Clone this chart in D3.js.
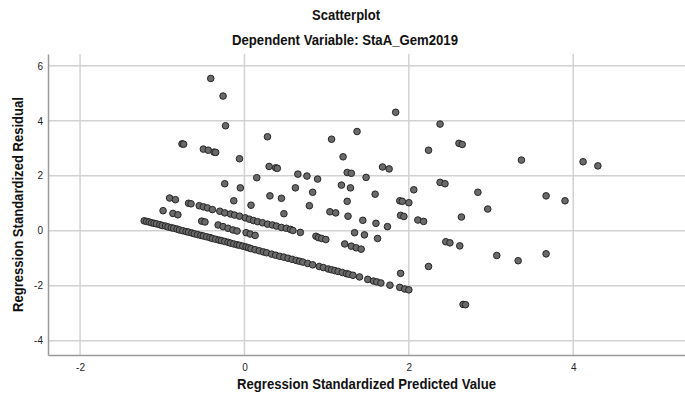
<!DOCTYPE html>
<html>
<head>
<meta charset="utf-8">
<script src="https://cdn.jsdelivr.net/npm/d3@7"></script>
<style>
  html, body { margin: 0; padding: 0; background: #fff; }
  svg { display: block; font-family: Arial, "Liberation Sans", sans-serif; }
</style>
</head>
<body>
<svg id="chart" width="685" height="401"></svg>
<script>
// Chart text
const chartTitle = "Scatterplot";
const chartSubtitle = "Dependent Variable: StaA_Gem2019";
const xAxisTitle = "Regression Standardized Predicted Value";
const yAxisTitle = "Regression Standardized Residual";

// Axis ticks
const xTicks = [-2, 0, 2, 4];
const yTicks = [-4, -2, 0, 2, 4, 6];

// Residuals along the lowest diagonal band [predicted, residual]
const lowerBand = [
  [-1.22, 0.36], [-1.19, 0.34], [-1.16, 0.32], [-1.13, 0.29], [-1.10, 0.27], [-1.07, 0.25],
  [-1.03, 0.22], [-1.00, 0.19], [-0.96, 0.17], [-0.93, 0.14], [-0.89, 0.11], [-0.86, 0.09],
  [-0.82, 0.06], [-0.79, 0.03], [-0.75, 0.00], [-0.71, -0.03], [-0.68, -0.05], [-0.64, -0.08],
  [-0.61, -0.11], [-0.57, -0.14], [-0.53, -0.17], [-0.50, -0.19], [-0.46, -0.22], [-0.42, -0.25],
  [-0.39, -0.28], [-0.35, -0.31], [-0.31, -0.34], [-0.28, -0.36], [-0.24, -0.39], [-0.20, -0.42],
  [-0.17, -0.45], [-0.13, -0.48], [-0.09, -0.51], [-0.06, -0.53], [-0.02, -0.56], [0.02, -0.59],
  [0.05, -0.62], [0.08, -0.65], [0.13, -0.69], [0.18, -0.73], [0.23, -0.77], [0.27, -0.80],
  [0.33, -0.85], [0.38, -0.89], [0.43, -0.93], [0.48, -0.96], [0.53, -1.00], [0.58, -1.04],
  [0.63, -1.08], [0.67, -1.11], [0.71, -1.14], [0.77, -1.19], [0.83, -1.24], [0.91, -1.30],
  [0.96, -1.34], [1.02, -1.39], [1.06, -1.42], [1.10, -1.45], [1.14, -1.48], [1.19, -1.52],
  [1.24, -1.56], [1.27, -1.58], [1.32, -1.62], [1.40, -1.68], [1.50, -1.77], [1.57, -1.83],
  [1.61, -1.86], [1.66, -1.90], [1.77, -1.98], [1.89, -2.06], [1.95, -2.12], [2.00, -2.15]
];

// Residuals along the short band just above it
const middleBand = [
  [-0.99, 0.73], [-0.87, 0.63], [-0.81, 0.58], [-0.52, 0.35], [-0.48, 0.32], [-0.32, 0.21],
  [-0.26, 0.15], [-0.20, 0.09], [-0.14, 0.03], [-0.09, -0.01], [0.02, -0.07], [0.07, -0.12],
  [0.13, -0.17]
];

// Residuals along the upper diagonal band
const upperBand = [
  [-0.91, 1.19], [-0.84, 1.13], [-0.68, 1.00], [-0.65, 0.98], [-0.55, 0.91], [-0.50, 0.87],
  [-0.45, 0.83], [-0.39, 0.77], [-0.30, 0.71], [-0.24, 0.65], [-0.17, 0.61], [-0.12, 0.57],
  [-0.06, 0.53], [0.01, 0.47], [0.06, 0.42], [0.11, 0.37], [0.16, 0.33], [0.22, 0.29],
  [0.28, 0.24], [0.34, 0.21], [0.39, 0.17], [0.45, 0.12], [0.51, 0.09], [0.56, 0.05],
  [0.59, 0.01], [0.68, -0.06], [0.87, -0.20], [0.90, -0.25], [0.94, -0.28], [0.99, -0.32],
  [1.22, -0.48], [1.30, -0.56], [1.36, -0.62], [1.42, -0.67]
];

// Remaining cases
const scattered = [
  [-0.41, 5.54], [-0.26, 4.90], [-0.23, 3.82], [-0.76, 3.16], [-0.74, 3.15], [-0.50, 2.97],
  [-0.44, 2.93], [-0.37, 2.86], [-0.35, 2.85], [-0.06, 2.62], [0.28, 3.42], [0.30, 2.34],
  [0.38, 2.29], [0.40, 2.27], [-0.24, 1.71], [-0.05, 1.56], [0.15, 1.93], [-0.13, 1.09],
  [0.08, 0.93], [0.31, 1.27], [1.84, 4.31], [2.38, 3.88], [1.06, 3.33], [1.37, 3.61],
  [1.20, 2.69], [2.24, 2.93], [2.61, 3.18], [2.65, 3.14], [0.65, 2.06], [0.76, 1.99],
  [0.89, 1.88], [1.25, 2.12], [1.30, 2.09], [1.48, 1.94], [1.68, 2.32], [1.76, 2.25],
  [0.62, 1.56], [0.83, 1.40], [1.18, 1.66], [1.29, 1.56], [1.59, 1.33], [2.38, 1.76],
  [2.44, 1.71], [2.06, 1.49], [2.84, 1.40], [0.45, 1.18], [0.79, 0.91], [1.25, 1.07],
  [1.89, 1.09], [1.92, 1.07], [2.00, 1.02], [2.96, 0.79], [3.37, 2.57], [4.12, 2.51],
  [4.30, 2.36], [3.67, 1.27], [3.90, 1.09], [3.07, -0.90], [3.33, -1.09], [3.67, -0.84],
  [0.48, 0.62], [1.04, 0.69], [1.11, 0.65], [1.26, 0.53], [1.44, 0.38], [1.60, 0.27],
  [1.74, 0.15], [1.90, 0.56], [1.94, 0.52], [2.11, 0.39], [2.18, 0.34], [2.64, 0.50],
  [1.34, -0.07], [1.46, -0.15], [1.62, -0.28], [2.45, -0.40], [2.50, -0.44], [2.62, -0.55],
  [2.24, -1.30], [1.90, -1.55], [2.66, -2.68], [2.69, -2.69]
];

const points = [...lowerBand, ...middleBand, ...upperBand, ...scattered];

// Layout
const plot = { left: 48, right: 685, top: 54, bottom: 355 };

const svg = d3.select("#chart");

const x = d3.scaleLinear().domain([-2.39, 5.36]).range([plot.left, plot.right]);
const y = d3.scaleLinear().domain([-4.52, 6.43]).range([plot.bottom, plot.top]);

// Grid lines
const grid = svg.append("g").attr("class", "grid");
grid.selectAll("line.v").data(xTicks).join("line")
  .attr("class", "v")
  .attr("x1", d => x(d)).attr("x2", d => x(d))
  .attr("y1", plot.top).attr("y2", plot.bottom)
  .attr("stroke", "#d2d2d2").attr("stroke-width", 1.5);
grid.selectAll("line.h").data(yTicks).join("line")
  .attr("class", "h")
  .attr("x1", plot.left).attr("x2", plot.right)
  .attr("y1", d => y(d)).attr("y2", d => y(d))
  .attr("stroke", "#d2d2d2").attr("stroke-width", 1.5);

// Axes built with d3 axis generators, then styled
const xAxis = svg.append("g")
  .attr("transform", `translate(0,${plot.bottom})`)
  .call(d3.axisBottom(x).tickValues(xTicks).tickSize(0).tickPadding(9).tickFormat(d3.format("d")));
const yAxis = svg.append("g")
  .attr("transform", `translate(${plot.left},0)`)
  .call(d3.axisLeft(y).tickValues(yTicks).tickSize(0).tickPadding(5).tickFormat(d3.format("d")));

[xAxis, yAxis].forEach(a => {
  a.select(".domain").attr("stroke", "#9a9a9a").attr("stroke-width", 1.5);
  a.selectAll("text")
    .attr("font-family", "Arial, 'Liberation Sans', sans-serif")
    .attr("font-size", 10)
    .attr("fill", "#222");
});
// Hyphen-style minus signs as in the tick labels
xAxis.selectAll("text").text(d => String(d));
yAxis.selectAll("text").text(d => String(d));

// Points
svg.append("g").attr("class", "points")
  .selectAll("circle").data(points).join("circle")
  .attr("cx", d => x(d[0]))
  .attr("cy", d => y(d[1]))
  .attr("r", 3.3)
  .attr("fill", "#6a6a6a")
  .attr("stroke", "#262626")
  .attr("stroke-width", 1);

// Titles
function boldText(txt, px, py, len, size, rotate) {
  const t = svg.append("text")
    .attr("x", px).attr("y", py)
    .attr("text-anchor", "middle")
    .attr("font-family", "Arial, 'Liberation Sans', sans-serif")
    .attr("font-weight", "bold")
    .attr("font-size", size)
    .attr("fill", "#111")
    .attr("textLength", len)
    .attr("lengthAdjust", "spacingAndGlyphs")
    .text(txt);
  if (rotate) t.attr("transform", `rotate(-90,${px},${py})`);
  return t;
}

boldText(chartTitle, 346, 20, 68, 14);
boldText(chartSubtitle, 345, 45, 226, 14);
boldText(xAxisTitle, (plot.left + plot.right) / 2, 389, 259, 14.5);
boldText(yAxisTitle, 23, (plot.top + plot.bottom) / 2, 215, 14.5, true);
</script>
</body>
</html>
